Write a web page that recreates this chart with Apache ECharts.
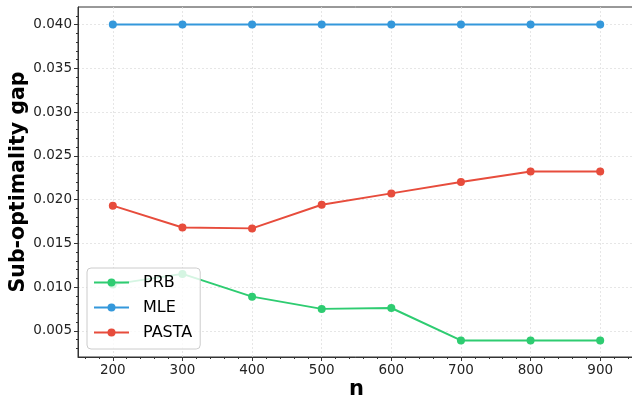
<!DOCTYPE html>
<html><head><meta charset="utf-8">
<script src="https://cdn.jsdelivr.net/npm/echarts@6/dist/echarts.min.js"></script>
<style>html,body{margin:0;padding:0;background:#fff}#c{width:632px;height:397px}</style>
</head><body><div id="c"></div>
<script>
const nValues = [200, 300, 400, 500, 600, 700, 800, 900];
const prb   = [0.0103, 0.0115, 0.0089, 0.0075, 0.0076, 0.0039, 0.0039, 0.0039];
const mle   = [0.040, 0.040, 0.040, 0.040, 0.040, 0.040, 0.040, 0.040];
const pasta = [0.0193, 0.0168, 0.0167, 0.0194, 0.0207, 0.0220, 0.0232, 0.0232];
const seriesNames = ['PRB', 'MLE', 'PASTA'];
const colors = ['#2ecc71', '#3498db', '#e74c3c'];
const xTicks = [200, 300, 400, 500, 600, 700, 800, 900];
const yTicks = [0.005, 0.010, 0.015, 0.020, 0.025, 0.030, 0.035, 0.040];

const X_MIN = 150, X_MAX = 950, Y_MIN = 0.002, Y_MAX = 0.042;
const xMinor = [];
for (let v = 160; v < X_MAX; v += 20) if (v % 100 !== 0) xMinor.push(v);
const yMinor = [];
for (let k = 3; k <= 41; k++) if (k % 5 !== 0) yMinor.push(k / 1000);

const font = 'DejaVu Sans';
const axisColor = '#333';
const chart = echarts.init(document.getElementById('c'));
const mk = (name, vals, color) => ({
  name, type: 'line', data: nValues.map((n, i) => [n, vals[i]]),
  symbol: 'circle', symbolSize: 8, color,
  lineStyle: { width: 2, color }, itemStyle: { color }, z: 3
});
const gridLine = { show: true, lineStyle: { color: '#e0e0e0', type: [2, 2], width: 0.8 } };
chart.setOption({
  animation: false,
  grid: { left: 78, top: 7, right: -3, bottom: 40, show: true, borderColor: axisColor, borderWidth: 1,
          outerBoundsMode: 'none', containLabel: false },
  xAxis: [{
    type: 'value', min: X_MIN, max: X_MAX, interval: 10,
    name: 'n', nameLocation: 'middle', nameGap: 22, nameMoveOverlap: false,
    nameTextStyle: { fontFamily: font, fontWeight: 'bold', fontSize: 21, color: '#000' },
    axisLine: { lineStyle: { color: axisColor, width: 1 } },
    axisTick: { length: 4, lineStyle: { color: axisColor }, customValues: xTicks },
    axisLabel: { fontFamily: font, fontSize: 13.5, color: '#222', margin: 6, customValues: xTicks },
    splitLine: gridLine
  }, {
    type: 'value', min: X_MIN, max: X_MAX, interval: 10, position: 'bottom', offset: 0,
    axisLine: { show: false },
    axisTick: { length: 2, lineStyle: { color: axisColor }, customValues: xMinor },
    axisLabel: { show: false }, splitLine: { show: false }
  }],
  yAxis: [{
    type: 'value', min: Y_MIN, max: Y_MAX, interval: 0.001,
    name: 'Sub-optimality gap', nameLocation: 'middle', nameGap: 49, nameMoveOverlap: false,
    nameTextStyle: { fontFamily: font, fontWeight: 'bold', fontSize: 20.5, color: '#000' },
    axisLine: { lineStyle: { color: axisColor, width: 1 } },
    axisTick: { length: 4, lineStyle: { color: axisColor }, customValues: yTicks },
    axisLabel: { fontFamily: font, fontSize: 13.5, color: '#222', margin: 6, customValues: yTicks,
      formatter: v => v.toFixed(3) },
    splitLine: gridLine
  }, {
    type: 'value', min: Y_MIN, max: Y_MAX, interval: 0.001, position: 'left', offset: 0,
    axisLine: { show: false },
    axisTick: { length: 2, lineStyle: { color: axisColor }, customValues: yMinor },
    axisLabel: { show: false }, splitLine: { show: false }
  }],
  legend: {
    orient: 'vertical', left: 87, top: 268,
    data: seriesNames,
    itemWidth: 35, itemHeight: 10, itemGap: 6,
    padding: [5, 8, 7, 6],
    backgroundColor: 'rgba(255,255,255,0.8)', borderColor: '#ccc', borderWidth: 1, borderRadius: 4,
    textStyle: { fontFamily: font, fontSize: 16, color: '#000', lineHeight: 19, padding: [0, 0, 0, 9] }
  },
  series: [mk('PRB', prb, colors[0]), mk('MLE', mle, colors[1]), mk('PASTA', pasta, colors[2])]
});
</script></body></html>
